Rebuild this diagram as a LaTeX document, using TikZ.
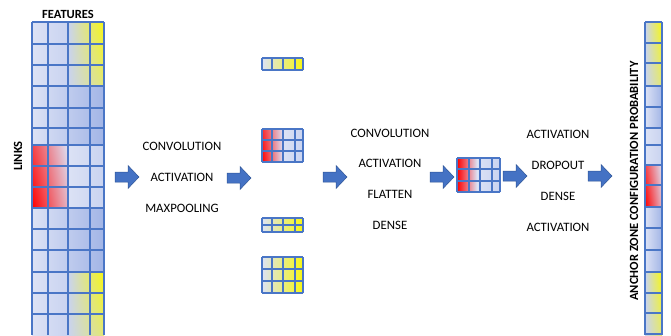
\documentclass[tikz,border=0pt]{standalone}
\usepackage{fontspec}
\setmainfont{Carlito}
\usetikzlibrary{shadings}
\definecolor{gridblue}{HTML}{4A76C6}
\definecolor{lbA}{HTML}{DCE2F5}
\definecolor{lbB}{HTML}{A2B5E6}
\definecolor{lbC}{HTML}{C9D3F0}
\definecolor{yel}{HTML}{F8F810}
\definecolor{redA}{HTML}{FF0000}
\definecolor{arrblue}{HTML}{4472C4}
\definecolor{arrdark}{HTML}{2F5597}
\tikzset{
  gl/.style={draw=gridblue, line width=1.1pt},
  blueblk/.style={left color=lbA, right color=lbB},
  lightblk/.style={left color=lbA, right color=lbC},
  yelblk/.style={upper left=lbC, lower left=lbC, upper right=yel, lower right=lbC!45!yel},
  redblk/.style={upper left=redA!70!lbA, lower left=redA, upper right=lbA, lower right=redA!20!lbA},
  yelrow/.style={left color=lbA, middle color=lbC, right color=yel},
  lbl/.style={font=\fontsize{12.8}{14}\selectfont, text=black, inner sep=0pt},
  bold/.style={font=\fontsize{12.5}{14}\selectfont\bfseries, text=black, inner sep=0pt},
  blockarrow/.style={fill=arrblue, draw=arrdark, line width=0.5pt},
}
\begin{document}
\begin{tikzpicture}[x=1pt,y=-1pt]
\useasboundingbox (0,0) rectangle (671,335);

% ---------- left input grid ----------
\shade[lightblk] (32,22) rectangle (68,86);
\shade[yelblk] (68,22) rectangle (104,86);
\shade[blueblk] (32,86) rectangle (104,145);
\shade[redblk] (32,145) rectangle (68,208);
\shade[lightblk] (68,145) rectangle (104,208);
\shade[blueblk] (32,208) rectangle (104,272);
\shade[lightblk] (32,272) rectangle (68,335);
\shade[yelblk] (68,272) rectangle (104,335);
\foreach \x in {32,48,68,90,104} \draw[gl] (\x,22) -- (\x,335);
\foreach \y in {22,44,65,86,108,128,145,166,187,208,229,250,272,293,314} \draw[gl] (32,\y) -- (104,\y);
\node[bold] (features) at (68,14) {FEATURES};
\node[bold, rotate=90] (links) at (18,156) {LINKS};

% ---------- arrows ----------
\foreach \n/\x/\y in {a1/115/177, a2/227/178, a3/323/177, a4/430/177, a5/503/176, a6/588/176}
  \draw[blockarrow] (\x,\y-5) -- (\x+13,\y-5) -- (\x+13,\y-11.5) -- (\x+24,\y) -- (\x+13,\y+11.5) -- (\x+13,\y+5) -- (\x,\y+5) -- cycle;

% ---------- first operation group ----------
\node[lbl] (c1) at (182,146) {CONVOLUTION};
\node[lbl] (act1) at (182,177) {ACTIVATION};
\node[lbl] (mp1) at (182,208) {MAXPOOLING};

% ---------- pooled feature maps ----------
\shade[yelrow] (262,58) rectangle (303,70);
\foreach \x in {262,272,283,295,303} \draw[gl] (\x,58) -- (\x,70);
\foreach \y in {58,70} \draw[gl] (262,\y) -- (303,\y);

\shade[upper left=redA!80!lbA, lower left=redA, upper right=lbA, lower right=lbA] (262,129) rectangle (283,162);
\shade[lightblk] (283,129) rectangle (303,162);
\foreach \x in {262,272,283,295,303} \draw[gl] (\x,129) -- (\x,162);
\foreach \y in {129,140,151,162} \draw[gl] (262,\y) -- (303,\y);

\shade[yelrow] (262,218) rectangle (303,232);
\foreach \x in {262,272,283,295,303} \draw[gl] (\x,218) -- (\x,232);
\foreach \y in {218,225,232} \draw[gl] (262,\y) -- (303,\y);

\shade[yelrow] (262,257) rectangle (303,293);
\foreach \x in {262,272,283,295,303} \draw[gl] (\x,257) -- (\x,293);
\foreach \y in {257,269,281,293} \draw[gl] (262,\y) -- (303,\y);

% ---------- second operation group ----------
\node[lbl] (c2) at (390,133) {CONVOLUTION};
\node[lbl] (act2) at (390,163) {ACTIVATION};
\node[lbl] (fl2) at (390,194) {FLATTEN};
\node[lbl] (de2) at (390,225) {DENSE};

% ---------- middle grid ----------
\shade[left color=redA, right color=lbA] (457,158) rectangle (477,192);
\shade[lightblk] (477,158) rectangle (500,192);
\foreach \x in {457,469,480,492,500} \draw[gl] (\x,158) -- (\x,192);
\foreach \y in {158,169,181,192} \draw[gl] (457,\y) -- (500,\y);

% ---------- third operation group ----------
\node[lbl] (act3) at (558,134) {ACTIVATION};
\node[lbl] (dr3) at (558,165) {DROPOUT};
\node[lbl] (de3) at (558,196) {DENSE};
\node[lbl] (act4) at (558,227) {ACTIVATION};

% ---------- output column ----------
\shade[yelblk] (645,22) rectangle (662,86);
\shade[blueblk] (645,86) rectangle (662,128);
\shade[lightblk] (645,128) rectangle (662,165);
\shade[redblk] (645,165) rectangle (662,207);
\shade[blueblk] (645,207) rectangle (662,272);
\shade[yelblk] (645,272) rectangle (662,335);
\foreach \x in {645,662} \draw[gl] (\x,22) -- (\x,335);
\foreach \y in {22,43,63,86,107,128,145,165,185,207,228,250,272,293,313,334} \draw[gl] (645,\y) -- (662,\y);
\node[bold, rotate=90] (azcp) at (634,181) {ANCHOR ZONE CONFIGURATION PROBABILITY};
\end{tikzpicture}
\end{document}
